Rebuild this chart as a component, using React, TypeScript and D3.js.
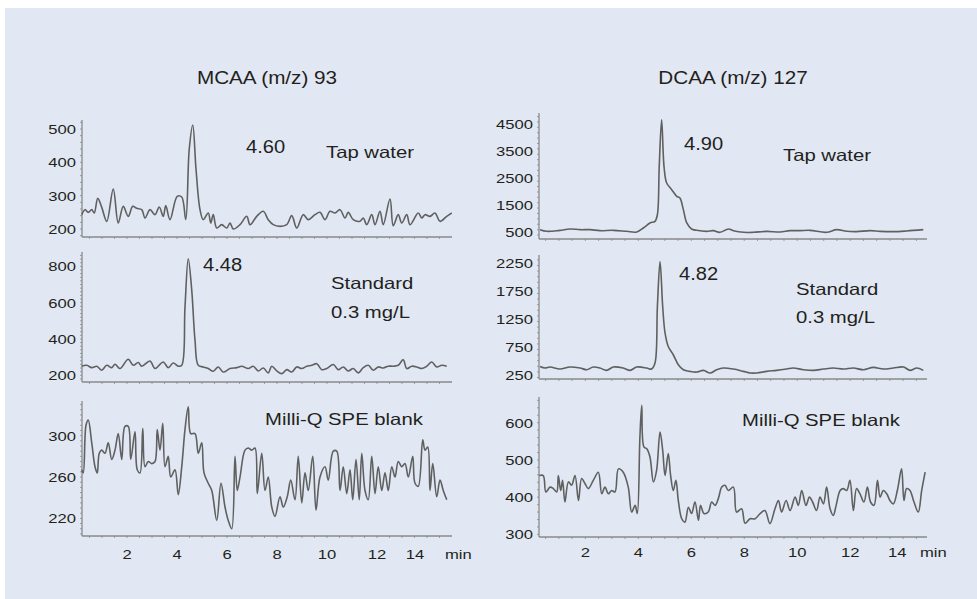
import React from "react";
import * as d3 from "d3";

const W = 977;
const H = 599;

// retention time ticks (min)
const timeTicks = [2, 4, 6, 8, 10, 12, 14];

// y tick labels per trace
const mcaaTapTicks = [200, 300, 400, 500];
const mcaaStdTicks = [200, 400, 600, 800];
const mcaaBlankTicks = [220, 260, 300];
const dcaaTapTicks = [500, 1500, 2500, 3500, 4500];
const dcaaStdTicks = [250, 750, 1250, 1750, 2250];
const dcaaBlankTicks = [300, 400, 500, 600];

// [time (min), abundance]
const mcaaTap: [number, number][] = [
  [0.19, 243], [0.32, 258], [0.45, 250], [0.59, 258], [0.69, 248], [0.83, 292], [0.99, 265],
  [1.19, 223], [1.45, 320], [1.65, 218], [1.85, 268], [2.05, 238], [2.23, 268], [2.39, 262],
  [2.59, 258], [2.72, 233], [2.92, 258], [3.12, 243], [3.29, 266], [3.45, 238], [3.55, 270],
  [3.72, 228], [4.01, 298], [4.19, 296], [4.35, 228], [4.49, 440], [4.63, 512], [4.76, 380],
  [4.92, 258], [5.05, 228], [5.25, 248], [5.35, 218], [5.45, 243], [5.59, 203], [5.79, 213],
  [5.99, 203], [6.12, 218], [6.25, 200], [6.52, 213], [6.79, 238], [6.92, 213], [7.19, 238],
  [7.45, 253], [7.65, 228], [7.85, 213], [8.12, 208], [8.39, 213], [8.59, 240], [8.79, 203],
  [9.05, 243], [9.25, 228], [9.52, 243], [9.72, 250], [9.92, 228], [10.12, 253], [10.32, 248],
  [10.52, 258], [10.72, 233], [10.85, 250], [11.05, 228], [11.32, 223], [11.45, 233], [11.59, 213],
  [11.79, 243], [11.92, 213], [12.12, 253], [12.25, 213], [12.52, 290], [12.65, 210], [12.85, 243],
  [12.99, 218], [13.19, 243], [13.32, 213], [13.65, 248], [13.79, 233], [13.92, 243], [14.12, 238],
  [14.32, 248], [14.52, 223], [14.79, 238], [14.99, 248],
];

const mcaaStd: [number, number][] = [
  [0.19, 250], [0.39, 255], [0.59, 242], [0.79, 250], [0.99, 228], [1.19, 255], [1.39, 242],
  [1.52, 261], [1.72, 237], [2.05, 288], [2.25, 255], [2.45, 270], [2.59, 250], [2.92, 279],
  [3.12, 237], [3.45, 273], [3.65, 242], [3.85, 268], [4.05, 250], [4.19, 255], [4.32, 576],
  [4.45, 842], [4.59, 668], [4.72, 393], [4.85, 255], [5.05, 246], [5.25, 237], [5.45, 222],
  [5.65, 246], [5.85, 218], [6.12, 237], [6.39, 242], [6.59, 250], [6.85, 237], [7.05, 250],
  [7.25, 224], [7.45, 240], [7.65, 213], [7.79, 250], [7.99, 224], [8.19, 209], [8.39, 231],
  [8.59, 218], [8.79, 246], [8.99, 237], [9.19, 250], [9.39, 255], [9.59, 264], [9.79, 231],
  [9.99, 237], [10.25, 259], [10.45, 231], [10.65, 246], [10.85, 224], [11.05, 237], [11.25, 213],
  [11.45, 242], [11.65, 255], [11.85, 228], [12.05, 246], [12.25, 240], [12.45, 250], [12.65, 250],
  [12.85, 255], [13.05, 286], [13.19, 237], [13.39, 250], [13.59, 246], [13.79, 237], [13.99, 250],
  [14.19, 273], [14.39, 246], [14.59, 255], [14.79, 250],
];

const mcaaBlank: [number, number][] = [
  [0.19, 267], [0.25, 264], [0.36, 310], [0.45, 315], [0.59, 293], [0.72, 270], [0.81, 264],
  [0.89, 283], [0.99, 286], [1.12, 283], [1.25, 293], [1.39, 277], [1.52, 286], [1.65, 302],
  [1.79, 277], [1.92, 309], [2.05, 309], [2.15, 277], [2.32, 304], [2.41, 267], [2.52, 264],
  [2.63, 307], [2.72, 270], [2.85, 275], [2.99, 273], [3.12, 275], [3.21, 306], [3.32, 286],
  [3.43, 312], [3.52, 270], [3.65, 280], [3.75, 260], [3.92, 267], [4.05, 243], [4.19, 270],
  [4.32, 306], [4.45, 328], [4.55, 302], [4.72, 302], [4.85, 283], [4.99, 293], [5.08, 264],
  [5.25, 254], [5.39, 247], [5.59, 218], [5.76, 254], [5.92, 231], [6.05, 218], [6.19, 210],
  [6.32, 280], [6.41, 247], [6.52, 260], [6.72, 286], [6.85, 288], [6.99, 286], [7.12, 288],
  [7.21, 244], [7.39, 283], [7.52, 247], [7.65, 260], [7.79, 231], [7.92, 222], [8.12, 241],
  [8.25, 231], [8.41, 241], [8.55, 257], [8.72, 238], [8.85, 280], [8.99, 235], [9.12, 264],
  [9.25, 247], [9.43, 280], [9.56, 228], [9.72, 260], [9.92, 270], [10.05, 257], [10.25, 285],
  [10.39, 285], [10.52, 247], [10.65, 270], [10.79, 244], [10.92, 267], [11.03, 238], [11.16, 277],
  [11.29, 238], [11.39, 283], [11.52, 247], [11.65, 238], [11.79, 280], [11.92, 244], [12.05, 270],
  [12.19, 247], [12.32, 264], [12.45, 247], [12.59, 270], [12.72, 260], [12.85, 275], [12.99, 270],
  [13.12, 273], [13.25, 260], [13.43, 280], [13.52, 254], [13.65, 251], [13.83, 296], [13.92, 286],
  [14.03, 289], [14.12, 247], [14.23, 273], [14.39, 241], [14.52, 257], [14.65, 247], [14.79, 238],
];

const dcaaTap: [number, number][] = [
  [0.29, 599], [0.54, 537], [1.04, 574], [1.42, 624], [1.8, 599], [2.18, 599], [2.55, 562],
  [3.06, 574], [3.56, 537], [3.94, 512], [4.19, 661], [4.44, 847], [4.63, 909], [4.72, 1156],
  [4.79, 2951], [4.88, 4684], [4.97, 2951], [5.07, 2332], [5.26, 2085], [5.45, 1837], [5.57, 1775],
  [5.7, 1342], [5.83, 847], [6.01, 624], [6.2, 574], [6.58, 537], [6.83, 562], [7.08, 500],
  [7.4, 624], [7.59, 562], [7.97, 500], [8.34, 500], [8.85, 537], [9.35, 512], [9.73, 562],
  [10.11, 562], [10.48, 574], [11.11, 500], [11.49, 599], [11.87, 537], [12.24, 525], [12.75, 562],
  [13.13, 537], [13.63, 525], [14.13, 550], [14.76, 599],
];

const dcaaStd: [number, number][] = [
  [0.29, 398], [0.48, 369], [0.67, 387], [1.04, 351], [1.42, 387], [1.8, 369], [2.05, 339],
  [2.3, 387], [2.55, 369], [2.8, 327], [3.06, 387], [3.43, 369], [3.69, 327], [3.94, 387],
  [4.32, 369], [4.5, 351], [4.63, 458], [4.72, 1467], [4.82, 2268], [4.92, 1467], [5.01, 992],
  [5.13, 754], [5.32, 606], [5.51, 428], [5.7, 339], [5.95, 309], [6.2, 297], [6.46, 327],
  [6.71, 280], [6.96, 339], [7.21, 369], [7.59, 351], [7.97, 309], [8.22, 280], [8.47, 280],
  [8.85, 309], [9.22, 327], [9.6, 351], [9.85, 369], [10.23, 339], [10.61, 327], [10.99, 351],
  [11.36, 369], [11.74, 351], [12.12, 369], [12.5, 339], [12.87, 381], [13.25, 351], [13.63, 369],
  [14.01, 387], [14.26, 327], [14.51, 369], [14.76, 327],
];

const dcaaBlank: [number, number][] = [
  [0.26, 458], [0.41, 458], [0.51, 414], [0.67, 427], [0.79, 423], [0.92, 414], [0.98, 458],
  [1.07, 418], [1.14, 445], [1.23, 387], [1.36, 441], [1.48, 432], [1.61, 458], [1.74, 391],
  [1.86, 450], [1.99, 436], [2.11, 423], [2.3, 445], [2.49, 467], [2.62, 409], [2.74, 427],
  [2.87, 409], [2.99, 418], [3.12, 414], [3.25, 476], [3.43, 467], [3.62, 427], [3.75, 360],
  [3.88, 378], [3.96, 356], [4.06, 561], [4.13, 647], [4.21, 535], [4.32, 530], [4.44, 508],
  [4.57, 441], [4.69, 472], [4.82, 575], [4.92, 526], [5.01, 458], [5.13, 517], [5.22, 458],
  [5.32, 418], [5.42, 445], [5.51, 391], [5.64, 342], [5.76, 333], [5.89, 373], [6.01, 356],
  [6.14, 387], [6.27, 338], [6.35, 378], [6.48, 356], [6.64, 360], [6.77, 387], [6.9, 378],
  [7.02, 396], [7.15, 427], [7.27, 432], [7.4, 418], [7.59, 427], [7.71, 360], [7.9, 369],
  [8.03, 330], [8.22, 342], [8.41, 342], [8.6, 356], [8.78, 364], [8.97, 329], [9.16, 369],
  [9.29, 391], [9.41, 360], [9.58, 391], [9.73, 364], [9.92, 400], [10.04, 378], [10.17, 418],
  [10.33, 378], [10.46, 400], [10.58, 387], [10.73, 364], [10.86, 400], [10.99, 382], [11.11, 427],
  [11.24, 369], [11.36, 351], [11.47, 378], [11.62, 418], [11.74, 423], [11.87, 418], [11.99, 445],
  [12.12, 364], [12.24, 423], [12.37, 409], [12.52, 387], [12.65, 427], [12.77, 387], [12.9, 378],
  [13.03, 445], [13.13, 400], [13.25, 418], [13.38, 409], [13.5, 391], [13.63, 382], [13.78, 418],
  [13.94, 476], [14.03, 391], [14.13, 423], [14.26, 418], [14.39, 391], [14.57, 360], [14.7, 418],
  [14.83, 467],
];

const FONT = "'Liberation Sans', Arial, sans-serif";
const INK = "#231f20";
const TRACE = "#606060";
const AXIS = "#8a8a8a";
const STRETCH = 1.23; // the printed figure is a bit wider than tall

const leftX = d3.scaleLinear().domain([0.2, 15]).range([82, 452]);
const rightX = d3.scaleLinear().domain([0.25, 14.9]).range([539, 927]);

type Note = { text: string; x: number; y: number; big?: boolean };

type PanelDef = {
  data: [number, number][];
  x: d3.ScaleLinear<number, number>;
  yDomain: [number, number];
  yRange: [number, number];
  ticks: number[];
  notes: Note[];
  timeAxis?: { y: number; lastDx: number; minX: number };
};

const panels: PanelDef[] = [
  {
    data: mcaaTap, x: leftX, yDomain: [176, 527], yRange: [237, 120], ticks: mcaaTapTicks,
    notes: [{ text: "4.60", x: 246, y: 153, big: true }, { text: "Tap water", x: 326, y: 158 }],
  },
  {
    data: mcaaStd, x: leftX, yDomain: [163, 879], yRange: [382, 252], ticks: mcaaStdTicks,
    notes: [
      { text: "4.48", x: 203, y: 271, big: true },
      { text: "Standard", x: 331, y: 289 },
      { text: "0.3 mg/L", x: 331, y: 318 },
    ],
  },
  {
    data: mcaaBlank, x: leftX, yDomain: [203, 333.5], yRange: [536, 401], ticks: mcaaBlankTicks,
    notes: [{ text: "Milli-Q SPE blank", x: 265, y: 425 }],
    timeAxis: { y: 559, lastDx: -12, minX: 445 },
  },
  {
    data: dcaaTap, x: rightX, yDomain: [252, 4932], yRange: [239, 113], ticks: dcaaTapTicks,
    notes: [{ text: "4.90", x: 684, y: 150, big: true }, { text: "Tap water", x: 783, y: 161 }],
  },
  {
    data: dcaaStd, x: rightX, yDomain: [173, 2387], yRange: [379, 255], ticks: dcaaStdTicks,
    notes: [
      { text: "4.82", x: 679, y: 280, big: true },
      { text: "Standard", x: 796, y: 295 },
      { text: "0.3 mg/L", x: 796, y: 323 },
    ],
  },
  {
    data: dcaaBlank, x: rightX, yDomain: [293, 669], yRange: [537, 397], ticks: dcaaBlankTicks,
    notes: [{ text: "Milli-Q SPE blank", x: 742, y: 426 }],
    timeAxis: { y: 557, lastDx: -6, minX: 920 },
  },
];

function Label({ x, y, size, anchor = "start", dy, sx = STRETCH, children }: {
  x: number; y: number; size: number; anchor?: string; dy?: string; sx?: number; children: React.ReactNode;
}) {
  return (
    <text
      transform={`translate(${x},${y}) scale(${sx},1)`}
      dy={dy}
      textAnchor={anchor}
      fontSize={size}
      fill={INK}
    >
      {children}
    </text>
  );
}

function Panel({ p }: { p: PanelDef }) {
  const y = d3.scaleLinear().domain(p.yDomain).range(p.yRange);
  const [x0, x1] = p.x.range();
  const [yb, yt] = p.yRange;
  const line = d3
    .line<[number, number]>()
    .x((d) => p.x(d[0]))
    .y((d) => y(d[1]))
    .curve(d3.curveCatmullRom.alpha(0.5));

  // small minor ticks along both axes, as on the instrument printout
  const yMinor = y.ticks(24);
  const xMinor = d3.range(1, 30).map((i) => i * 0.5).filter((t) => t >= p.x.domain()[0] && t <= p.x.domain()[1]);

  return (
    <g>
      <line x1={x0} x2={x0} y1={yb} y2={yt} stroke={AXIS} strokeWidth={1.3} />
      <line x1={x0} x2={x1} y1={yb} y2={yb} stroke={AXIS} strokeWidth={1.3} />
      {yMinor.map((v) => (
        <line key={"ym" + v} x1={x0 - 2} x2={x0} y1={y(v)} y2={y(v)} stroke={AXIS} strokeWidth={0.8} />
      ))}
      {xMinor.map((t) => (
        <line key={"xm" + t} x1={p.x(t)} x2={p.x(t)} y1={yb} y2={yb + 2} stroke={AXIS} strokeWidth={0.8} />
      ))}
      {p.ticks.map((v) => (
        <Label key={"yt" + v} x={x0 - 6} y={y(v)} dy="0.36em" anchor="end" size={13.5}>
          {v}
        </Label>
      ))}
      <path d={line(p.data) ?? ""} fill="none" stroke={TRACE} strokeWidth={1.6} strokeLinejoin="round" />
      {p.notes.map((n) =>
        n.big ? (
          <Label key={n.text} x={n.x} y={n.y} size={19} sx={1.06}>
            {n.text}
          </Label>
        ) : (
          <Label key={n.text} x={n.x} y={n.y} size={16.5}>
            {n.text}
          </Label>
        )
      )}
      {p.timeAxis && (
        <g>
          {timeTicks.map((t, i) => (
            <Label
              key={"xt" + t}
              x={p.x(t) + (i === timeTicks.length - 1 ? p.timeAxis!.lastDx : 0)}
              y={p.timeAxis!.y}
              anchor="middle"
              size={13.5}
            >
              {t}
            </Label>
          ))}
          <Label x={p.timeAxis.minX} y={p.timeAxis.y} size={13.5}>
            min
          </Label>
        </g>
      )}
    </g>
  );
}

export default function App() {
  return (
    <svg
      width={W}
      height={H}
      style={{ position: "absolute", left: 0, top: 0, display: "block" }}
      fontFamily={FONT}
    >
      <rect x={0} y={0} width={W} height={H} fill="#ffffff" />
      <rect x={5} y={8} width={W - 5} height={H - 8} fill="#e1e8f3" />
      <Label x={(leftX.range()[0] + leftX.range()[1]) / 2} y={84} anchor="middle" size={18} sx={1.15}>
        MCAA (m/z) 93
      </Label>
      <Label x={(rightX.range()[0] + rightX.range()[1]) / 2} y={84} anchor="middle" size={18} sx={1.15}>
        DCAA (m/z) 127
      </Label>
      {panels.map((p, i) => (
        <Panel key={i} p={p} />
      ))}
    </svg>
  );
}
